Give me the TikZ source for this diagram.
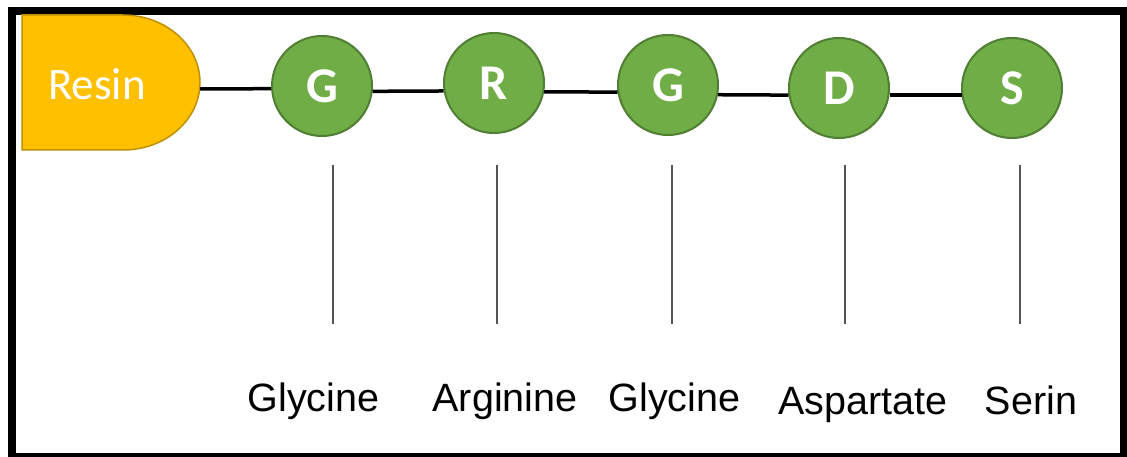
\documentclass[tikz,border=0pt]{standalone}
\usepackage{fontspec}
\setmainfont{Liberation Sans}
\newfontfamily\calib{Carlito}
\definecolor{resinfill}{HTML}{FFC000}
\definecolor{resinline}{HTML}{BF9000}
\definecolor{aafill}{HTML}{70AD47}
\definecolor{aaline}{HTML}{507E32}
\definecolor{tick}{HTML}{555555}
\tikzset{
  aa/.style={circle, draw=aaline, line width=2pt, fill=aafill, minimum size=100pt, inner sep=0pt,
             text=white, font=\calib\bfseries\fontsize{50}{50}\selectfont},
  bond/.style={draw=black, line width=3.5pt},
  tickline/.style={draw=tick, line width=1.3pt},
  lbl/.style={anchor=base, font=\fontsize{39.5}{40}\selectfont, inner sep=0pt}
}
\begin{document}
\begin{tikzpicture}[x=1pt,y=-1pt]
\useasboundingbox (0,0) rectangle (1127,457);
% frame
\fill[black] (8,7) rectangle (1127,457);
\fill[white] (16,15) rectangle (1120,453);
% resin
\draw[fill=resinfill, draw=resinline, line width=1.5pt]
  (22,15) -- (123,15) arc[start angle=90, end angle=-90, x radius=77, y radius=-67.5] -- (22,150) -- cycle;
\node[text=white, font=\calib\fontsize{45}{45}\selectfont, inner sep=0pt] (resin) at (97,84) {Resin};
\coordinate (resinE) at (200,89);
% residues
\node[aa] (g1) at (322,86) {G};
\node[aa] (r)  at (494,83) {R};
\node[aa] (g2) at (668,85) {G};
\node[aa] (d)  at (839,88) {D};
\node[aa] (s)  at (1012,88) {S};
% bonds
\draw[bond] (resinE) -- (g1.183);
\draw[bond] (g1.-6) -- (r.189);
\draw[bond] (r.-10) -- (g2.188);
\draw[bond] (g2.-11) -- (d.188);
\draw[bond] (d.-8) -- (s.188);
% tick lines
\foreach \n/\x in {t1/333, t2/497, t3/672, t4/845, t5/1020} {
  \coordinate (\n a) at (\x,165);
  \coordinate (\n b) at (\x,324);
  \draw[tickline] (\n a) -- (\n b);
}
% labels
\node[lbl] (l1) at (313.5,411) {Glycine};
\node[lbl] (l2) at (505,411) {Arginine};
\node[lbl] (l3) at (674.5,411) {Glycine};
\node[lbl] (l4) at (863,414) {Aspartate};
\node[lbl] (l5) at (1031,414) {Serin};
\end{tikzpicture}
\end{document}
